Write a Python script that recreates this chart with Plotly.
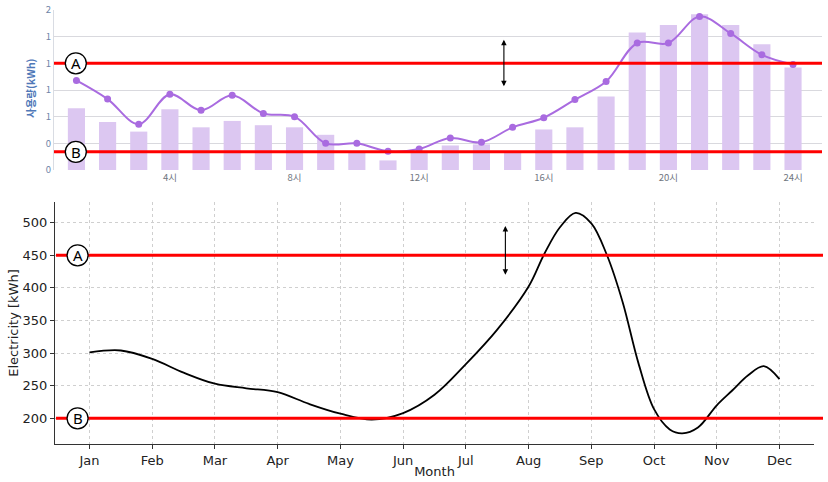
import plotly.graph_objects as go

W, H = 828, 482

# ---------------- data ----------------
hours = list(range(1, 25))
hour_bars = [0.58, 0.45, 0.36, 0.57, 0.40, 0.46, 0.42, 0.40, 0.33, 0.16, 0.09, 0.18,
             0.23, 0.24, 0.16, 0.38, 0.40, 0.69, 1.29, 1.36, 1.46, 1.36, 1.18, 0.96]
hour_line = [0.84, 0.665, 0.43, 0.71, 0.56, 0.70, 0.53, 0.50, 0.25, 0.25, 0.175, 0.197,
             0.30, 0.26, 0.40, 0.49, 0.66, 0.83, 1.19, 1.19, 1.44, 1.28, 1.08, 0.99]
hour_tickvals = [4, 8, 12, 16, 20, 24]
hour_ticktext = ["4시", "8시", "12시", "16시", "20시", "24시"]
top_ytickvals = [0, 0.25, 0.5, 0.75, 1.0, 1.25, 1.5]
top_yticktext = ["0", "0", "1", "1", "1", "1", "2"]
top_ytitle = "사용량(kWh)"
top_A, top_B = 1.0, 0.17

# monthly curve at (fractional) month positions
month_pos = [1, 1.5, 2, 2.5, 3, 3.5, 4, 4.5, 5, 5.5, 6, 6.5, 7, 7.5, 8, 8.25, 8.5, 8.75,
             9, 9.25, 9.5, 9.75, 10, 10.25, 10.45, 10.7, 11, 11.25, 11.5, 11.75, 12]
electricity = [301, 304, 291, 270, 253, 246, 240, 222, 207, 198, 208, 236, 283, 336, 402, 452, 493, 515,
               499, 450, 378, 285, 214, 183, 177, 186, 220, 243, 266, 280, 260]
month_ticks = list(range(1, 13))
month_names = ["Jan", "Feb", "Mar", "Apr", "May", "Jun", "Jul", "Aug", "Sep", "Oct", "Nov", "Dec"]
bottom_yticks = [200, 250, 300, 350, 400, 450, 500]
bot_A, bot_B = 450, 200

# ---------------- helpers ----------------
def px_x(p):
    return p / W

def px_y(p):
    return 1 - p / H

fig = go.Figure()

fig.add_trace(go.Bar(x=hours, y=hour_bars, marker_color="#dcc7f1", marker_line_width=0,
                     xaxis="x", yaxis="y", showlegend=False))
fig.add_trace(go.Scatter(x=hours, y=hour_line, mode="lines+markers",
                         line=dict(color="#a96be0", width=2, shape="spline", smoothing=1),
                         marker=dict(color="#a96be0", size=7),
                         xaxis="x", yaxis="y", showlegend=False))

fig.add_trace(go.Scatter(x=month_pos, y=electricity, mode="lines",
                         line=dict(color="black", width=1.8, shape="spline", smoothing=1),
                         xaxis="x2", yaxis="y2", showlegend=False))

kr_font = "Noto Sans CJK KR, Noto Sans, sans-serif"
mpl_font = "DejaVu Sans, sans-serif"

fig.update_layout(
    width=W, height=H,
    margin=dict(l=0, r=0, t=0, b=0),
    paper_bgcolor="white", plot_bgcolor="white",
    bargap=0.45,
    xaxis=dict(domain=[px_x(54), px_x(822)], range=[0.28, 24.93], anchor="y", automargin=False,
               tickvals=hour_tickvals, ticktext=hour_ticktext, showgrid=False,
               zeroline=False, showline=False, ticks="",
               tickfont=dict(family=kr_font, size=9.5, color="#6f7680")),
    yaxis=dict(domain=[px_y(170), px_y(10)], range=[0, 1.5], anchor="x", automargin=False,
               tickvals=top_ytickvals, ticktext=top_yticktext,
               showgrid=True, gridcolor="#d9d9de", gridwidth=1,
               zeroline=False, showline=True, linecolor="#d9dce3", linewidth=1, ticks="",
               tickfont=dict(family=kr_font, size=9.5, color="#6d84a8")),
    xaxis2=dict(domain=[px_x(55), px_x(814)], range=[0.45, 12.55], anchor="y2", automargin=False,
                tickvals=month_ticks, ticktext=month_names,
                showgrid=True, gridcolor="#cfcfcf", griddash="dot", gridwidth=1,
                zeroline=False, showline=True, linecolor="#333333", linewidth=1.2,
                ticks="outside", ticklen=4, tickcolor="#333333",
                tickfont=dict(family=mpl_font, size=13, color="#222222"),
                title=dict(text="Month", standoff=0,
                           font=dict(family=mpl_font, size=13, color="#222222"))),
    yaxis2=dict(domain=[px_y(444), px_y(202)], range=[160.6, 531.7], anchor="x2", automargin=False,
                tickvals=bottom_yticks,
                showgrid=True, gridcolor="#cfcfcf", griddash="dot", gridwidth=1,
                zeroline=False, showline=True, linecolor="#333333", linewidth=1.2,
                ticks="outside", ticklen=4, tickcolor="#333333",
                tickfont=dict(family=mpl_font, size=13, color="#222222"),
                title=dict(text="Electricity [kWh]", standoff=0,
                           font=dict(family=mpl_font, size=13, color="#222222"))),
)

shapes = []
# red threshold lines
for v in (top_A, top_B):
    shapes.append(dict(type="line", xref="paper", yref="y", x0=px_x(54), x1=px_x(822),
                       y0=v, y1=v, line=dict(color="#ff0000", width=3), layer="above"))
for v in (bot_A, bot_B):
    shapes.append(dict(type="line", xref="paper", yref="y2", x0=px_x(56), x1=px_x(823),
                       y0=v, y1=v, line=dict(color="#ff0000", width=3), layer="above"))

annotations = []
# top y-axis title
annotations.append(dict(text=top_ytitle, x=px_x(30), y=px_y(88), xref="paper", yref="paper",
                        showarrow=False, textangle=-90, xanchor="center", yanchor="middle",
                        font=dict(family=kr_font, size=10.5, color="#4f78b8", weight="bold")))

# circled labels
def circled(label, xval, yval, xref, yref):
    shapes.append(dict(type="circle", xref=xref, yref=yref, xsizemode="pixel", ysizemode="pixel",
                       xanchor=xval, yanchor=yval, x0=-10.5, x1=10.5, y0=-10.5, y1=10.5,
                       fillcolor="white", line=dict(color="black", width=1.3), layer="above"))
    annotations.append(dict(text=label, x=xval, y=yval, xref=xref, yref=yref, showarrow=False,
                            font=dict(family="Noto Sans, sans-serif", size=15, color="black"),
                            xanchor="center", yanchor="middle"))

circled("A", 0.98, top_A, "x", "y")
circled("B", 0.98, top_B, "x", "y")
circled("A", 0.81, bot_A, "x2", "y2")
circled("B", 0.81, bot_B, "x2", "y2")

# double-headed arrows
annotations.append(dict(x=14.72, y=1.22, ax=14.72, ay=0.77, xref="x", yref="y", axref="x", ayref="y",
                        showarrow=True, arrowhead=2, startarrowhead=2, arrowside="end+start",
                        arrowsize=1, arrowwidth=1.1, arrowcolor="black", text=""))
annotations.append(dict(x=7.63, y=495, ax=7.63, ay=418, xref="x2", yref="y2", axref="x2", ayref="y2",
                        showarrow=True, arrowhead=2, startarrowhead=2, arrowside="end+start",
                        arrowsize=1, arrowwidth=1.1, arrowcolor="black", text=""))

fig.update_layout(shapes=shapes, annotations=annotations)

fig.write_html("out.html", config={"displayModeBar": False},
               post_script="document.body.style.margin='0px';document.body.style.overflow='hidden';")
